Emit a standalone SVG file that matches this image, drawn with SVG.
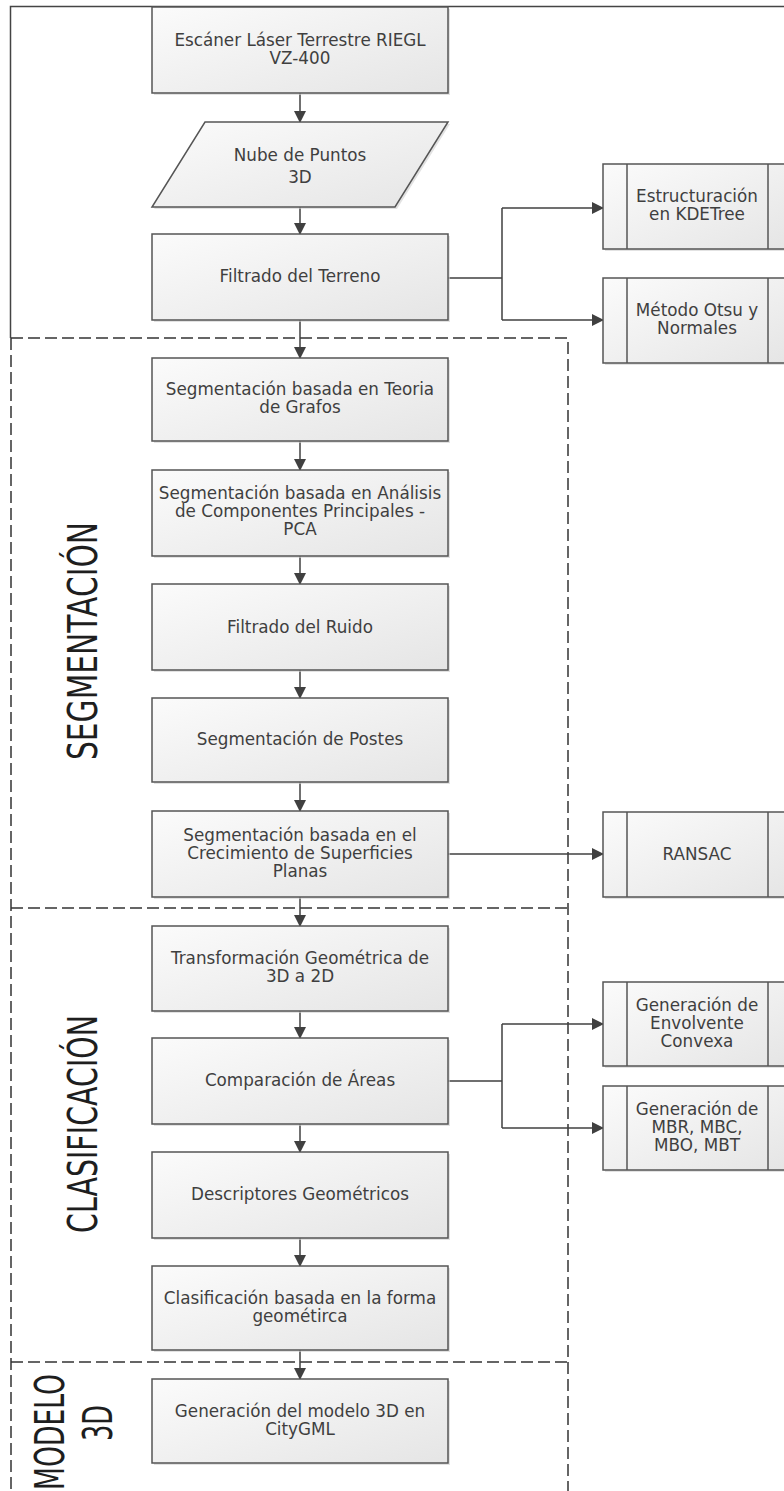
<svg xmlns="http://www.w3.org/2000/svg" width="784" height="1491" viewBox="0 0 784 1491">
<style>
.box{fill:url(#g);stroke:#555;stroke-width:1.5}
.sh{fill:#cfcfcf;opacity:.6}
.t{font-family:"DejaVu Sans",Verdana,sans-serif;font-size:16.8px;fill:#3f3f3f;text-anchor:middle}
.title{font-family:"DejaVu Sans",sans-serif;font-weight:400;font-size:40px;fill:#1e1e1e;text-anchor:middle}
.c{fill:none;stroke:#404040;stroke-width:1.5}
.dash{fill:none;stroke:#333;stroke-width:1.5;stroke-dasharray:12 5}
.frame{fill:none;stroke:#444;stroke-width:1.5}
.in{stroke:#555;stroke-width:1.5}
</style>
<defs>
<linearGradient id="g" x1="0" y1="0" x2="1" y2="1">
<stop offset="0" stop-color="#fbfbfb"/>
<stop offset="1" stop-color="#e5e5e5"/>
</linearGradient>
<marker id="a" viewBox="0 0 12 12" markerWidth="12" markerHeight="12" refX="11" refY="6" orient="auto" markerUnits="userSpaceOnUse">
<path d="M0,0 L12,6 L0,12 z" fill="#404040"/>
</marker>
</defs>
<rect width="784" height="1491" fill="#fff"/>
<g id="frame">
<path class="frame" d="M10.5,338 V6.5 H784"/>
<path class="dash" d="M11,338 H568 V1491 M11,338 V1491 M11,908 H568 M11,1362 H568"/>
</g>
<g id="labels">
<text class="title" transform="translate(97,641) rotate(-90)" textLength="238" lengthAdjust="spacingAndGlyphs">SEGMENTACIÓN</text>
<text class="title" transform="translate(97,1124) rotate(-90)" textLength="218" lengthAdjust="spacingAndGlyphs">CLASIFICACIÓN</text>
<text class="title" transform="translate(64,1432) rotate(-90)" textLength="116" lengthAdjust="spacingAndGlyphs">MODELO</text>
<text class="title" transform="translate(112,1423) rotate(-90)" textLength="36" lengthAdjust="spacingAndGlyphs">3D</text>
</g>
<g id="connectors">
<path class="c" marker-end="url(#a)" d="M300,93 V122"/>
<path class="c" marker-end="url(#a)" d="M300,207 V234"/>
<path class="c" marker-end="url(#a)" d="M300,320 V358"/>
<path class="c" marker-end="url(#a)" d="M300,441 V470"/>
<path class="c" marker-end="url(#a)" d="M300,556 V584"/>
<path class="c" marker-end="url(#a)" d="M300,670 V698"/>
<path class="c" marker-end="url(#a)" d="M300,782 V811"/>
<path class="c" marker-end="url(#a)" d="M300,897 V926"/>
<path class="c" marker-end="url(#a)" d="M300,1011 V1038"/>
<path class="c" marker-end="url(#a)" d="M300,1124 V1152"/>
<path class="c" marker-end="url(#a)" d="M300,1238 V1266"/>
<path class="c" marker-end="url(#a)" d="M300,1350 V1379"/>
<path class="c" d="M448,278 H502 M502,208 V320"/>
<path class="c" marker-end="url(#a)" d="M502,208 H603"/>
<path class="c" marker-end="url(#a)" d="M502,320 H603"/>
<path class="c" marker-end="url(#a)" d="M448,854 H603"/>
<path class="c" d="M448,1081 H502 M502,1024 V1128"/>
<path class="c" marker-end="url(#a)" d="M502,1024 H603"/>
<path class="c" marker-end="url(#a)" d="M502,1128 H603"/>
</g>
<g id="n1"><rect class="sh" x="154" y="9" width="296" height="86"/><rect class="box" x="152" y="7" width="296" height="86"/>
<text class="t" x="300" y="46">Escáner Láser Terrestre RIEGL</text><text class="t" x="300" y="64">VZ-400</text></g>
<g id="n2"><polygon class="sh" points="207,124 450,124 397,209 154,209"/><polygon class="box" points="205,122 448,122 395,207 152,207"/>
<text class="t" x="300" y="161">Nube de Puntos</text><text class="t" x="300" y="183">3D</text></g>
<g id="n3"><rect class="sh" x="154" y="236" width="296" height="86"/><rect class="box" x="152" y="234" width="296" height="86"/>
<text class="t" x="300" y="282">Filtrado del Terreno</text></g>
<g id="n4"><rect class="sh" x="154" y="360" width="296" height="83"/><rect class="box" x="152" y="358" width="296" height="83"/>
<text class="t" x="300" y="395">Segmentación basada en Teoria</text><text class="t" x="300" y="413">de Grafos</text></g>
<g id="n5"><rect class="sh" x="154" y="472" width="296" height="86"/><rect class="box" x="152" y="470" width="296" height="86"/>
<text class="t" x="300" y="499">Segmentación basada en Análisis</text><text class="t" x="300" y="517">de Componentes Principales -</text><text class="t" x="300" y="535">PCA</text></g>
<g id="n6"><rect class="sh" x="154" y="586" width="296" height="86"/><rect class="box" x="152" y="584" width="296" height="86"/>
<text class="t" x="300" y="633">Filtrado del Ruido</text></g>
<g id="n7"><rect class="sh" x="154" y="700" width="296" height="84"/><rect class="box" x="152" y="698" width="296" height="84"/>
<text class="t" x="300" y="745">Segmentación de Postes</text></g>
<g id="n8"><rect class="sh" x="154" y="813" width="296" height="86"/><rect class="box" x="152" y="811" width="296" height="86"/>
<text class="t" x="300" y="841">Segmentación basada en el</text><text class="t" x="300" y="859">Crecimiento de Superficies</text><text class="t" x="300" y="877">Planas</text></g>
<g id="n9"><rect class="sh" x="154" y="928" width="296" height="85"/><rect class="box" x="152" y="926" width="296" height="85"/>
<text class="t" x="300" y="964">Transformación Geométrica de</text><text class="t" x="300" y="982">3D a 2D</text></g>
<g id="n10"><rect class="sh" x="154" y="1040" width="296" height="86"/><rect class="box" x="152" y="1038" width="296" height="86"/>
<text class="t" x="300" y="1086">Comparación de Áreas</text></g>
<g id="n11"><rect class="sh" x="154" y="1154" width="296" height="86"/><rect class="box" x="152" y="1152" width="296" height="86"/>
<text class="t" x="300" y="1200">Descriptores Geométricos</text></g>
<g id="n12"><rect class="sh" x="154" y="1268" width="296" height="84"/><rect class="box" x="152" y="1266" width="296" height="84"/>
<text class="t" x="300" y="1304">Clasificación basada en la forma</text><text class="t" x="300" y="1322">geométirca</text></g>
<g id="n13"><rect class="sh" x="154" y="1381" width="296" height="84"/><rect class="box" x="152" y="1379" width="296" height="84"/>
<text class="t" x="300" y="1417">Generación del modelo 3D en</text><text class="t" x="300" y="1435">CityGML</text></g>
<g id="r1"><rect class="sh" x="605" y="166" width="189" height="85"/><rect class="box" x="603" y="164" width="189" height="85"/>
<path class="in" d="M627,164 V249 M768,164 V249"/>
<text class="t" x="697" y="202">Estructuración</text><text class="t" x="697" y="220">en KDETree</text></g>
<g id="r2"><rect class="sh" x="605" y="280" width="189" height="85"/><rect class="box" x="603" y="278" width="189" height="85"/>
<path class="in" d="M627,278 V363 M768,278 V363"/>
<text class="t" x="697" y="316">Método Otsu y</text><text class="t" x="697" y="334">Normales</text></g>
<g id="r3"><rect class="sh" x="605" y="814" width="189" height="85"/><rect class="box" x="603" y="812" width="189" height="85"/>
<path class="in" d="M627,812 V897 M768,812 V897"/>
<text class="t" x="697" y="860">RANSAC</text></g>
<g id="r4"><rect class="sh" x="605" y="984" width="189" height="84"/><rect class="box" x="603" y="982" width="189" height="84"/>
<path class="in" d="M627,982 V1066 M768,982 V1066"/>
<text class="t" x="697" y="1011">Generación de</text><text class="t" x="697" y="1029">Envolvente</text><text class="t" x="697" y="1047">Convexa</text></g>
<g id="r5"><rect class="sh" x="605" y="1088" width="189" height="84"/><rect class="box" x="603" y="1086" width="189" height="84"/>
<path class="in" d="M627,1086 V1170 M768,1086 V1170"/>
<text class="t" x="697" y="1115">Generación de</text><text class="t" x="697" y="1133">MBR, MBC,</text><text class="t" x="697" y="1151">MBO, MBT</text></g>
</svg>
